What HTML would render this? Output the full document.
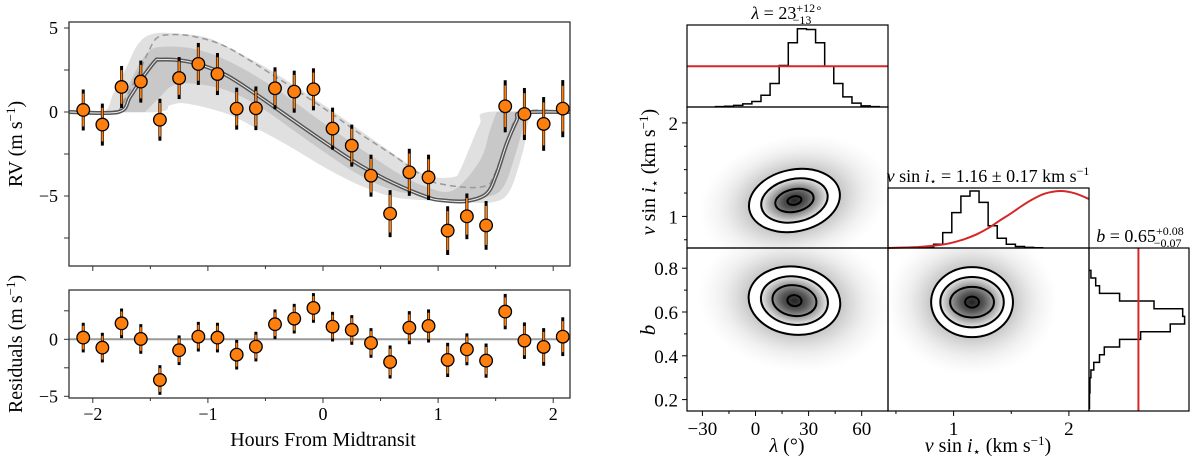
<!DOCTYPE html>
<html><head><meta charset="utf-8"><style>
html,body{margin:0;padding:0;background:#fff;}
svg{display:block;font-family:"Liberation Serif",serif;}
</style></head><body>
<svg id="fig" width="1200" height="456" viewBox="0 0 1200 456" xmlns="http://www.w3.org/2000/svg">
<defs>
<clipPath id="clipTop"><rect x="69" y="22" width="501" height="244"/></clipPath>
<clipPath id="clipA"><rect x="687" y="107" width="201" height="141"/></clipPath>
<clipPath id="clipB"><rect x="687" y="248" width="201" height="163"/></clipPath>
<clipPath id="clipC"><rect x="888" y="248" width="201" height="163"/></clipPath>
<radialGradient id="cloud">
<stop offset="0" stop-color="#555" stop-opacity="0.75"/>
<stop offset="0.45" stop-color="#777" stop-opacity="0.45"/>
<stop offset="0.75" stop-color="#aaa" stop-opacity="0.18"/>
<stop offset="1" stop-color="#ccc" stop-opacity="0"/>
</radialGradient>
<radialGradient id="core">
<stop offset="0" stop-color="#222"/>
<stop offset="0.35" stop-color="#555"/>
<stop offset="0.7" stop-color="#aaa"/>
<stop offset="1" stop-color="#f4f4f4"/>
</radialGradient>
</defs>
<g id="left"></g>
<g id="corner"></g>
<text x="323" y="446" font-size="20" text-anchor="middle">Hours From Midtransit</text>
<text transform="translate(22,144) rotate(-90)" font-size="20" text-anchor="middle">RV (m s<tspan dy="-7" font-size="13">−1</tspan><tspan dy="7">)</tspan></text>
<text transform="translate(22,344) rotate(-90)" font-size="20" text-anchor="middle">Residuals (m s<tspan dy="-7" font-size="13">−1</tspan><tspan dy="7">)</tspan></text>
<text x="787" y="19" font-size="18" text-anchor="middle"><tspan font-style="italic">λ</tspan> = 23<tspan dy="-7" font-size="12">+12∘</tspan><tspan dx="-30" dy="12" font-size="12">−13</tspan></text>
<text x="988" y="182" font-size="18" text-anchor="middle"><tspan font-style="italic">v</tspan> sin <tspan font-style="italic">i</tspan><tspan font-size="11" dy="3">⋆</tspan><tspan dy="-3"> = 1.16 ± 0.17 km s</tspan><tspan dy="-7" font-size="12">−1</tspan></text>
<text x="1140" y="242" font-size="18" text-anchor="middle"><tspan font-style="italic">b</tspan> = 0.65<tspan dy="-7" font-size="12">+0.08</tspan><tspan dx="-30" dy="12" font-size="12">−0.07</tspan></text>
<text x="787" y="452" font-size="20" text-anchor="middle"><tspan font-style="italic">λ</tspan> (°)</text>
<text x="988" y="452" font-size="20" text-anchor="middle"><tspan font-style="italic">v</tspan> sin <tspan font-style="italic">i</tspan><tspan font-size="13" dy="4">⋆</tspan><tspan dy="-4"> (km s</tspan><tspan dy="-7" font-size="13">−1</tspan><tspan dy="7">)</tspan></text>
<text transform="translate(655,172) rotate(-90)" font-size="20" text-anchor="middle"><tspan font-style="italic">v</tspan> sin <tspan font-style="italic">i</tspan><tspan font-size="13" dy="4">⋆</tspan><tspan dy="-4"> (km s</tspan><tspan dy="-7" font-size="13">−1</tspan><tspan dy="7">)</tspan></text>
<text transform="translate(655,330) rotate(-90)" font-size="21" text-anchor="middle" font-style="italic">b</text>
</svg>
<script>
// ---------- data: RV panel ----------
const hours = [-2.083,-1.917,-1.75,-1.583,-1.417,-1.25,-1.083,-0.917,-0.75,-0.583,-0.417,-0.25,-0.083,0.083,0.25,0.417,0.583,0.75,0.917,1.083,1.25,1.417,1.583,1.75,1.917,2.083];
const rv = [0.12,-0.75,1.49,1.81,-0.46,2.02,2.86,2.26,0.2,0.22,1.41,1.21,1.35,-0.99,-2.0,-3.79,-6.05,-3.59,-3.89,-7.06,-6.21,-6.75,0.34,-0.12,-0.71,0.2];
const rvErr = [1.22,1.25,1.25,1.25,1.25,1.25,1.25,1.25,1.25,1.3,1.25,1.25,1.25,1.25,1.25,1.25,1.4,1.4,1.35,1.45,1.36,1.45,1.55,1.55,1.6,1.7];
const resid = [0.15,-0.73,1.4,0.03,-3.57,-0.96,0.23,0.15,-1.35,-0.64,1.32,1.81,2.75,1.11,0.82,-0.32,-1.99,1.02,1.17,-1.81,-0.88,-1.87,2.43,-0.12,-0.67,0.23];
const resErr = [1.3,1.3,1.3,1.3,1.3,1.3,1.3,1.3,1.3,1.3,1.3,1.3,1.3,1.3,1.3,1.3,1.45,1.45,1.45,1.5,1.4,1.5,1.55,1.6,1.65,1.7];
const modelX = [-2.207,-1.778,-1.677,-1.575,-1.46,-1.416,-1.242,-1.069,-0.837,-0.547,-0.258,0.032,0.321,0.611,0.901,1.045,1.248,1.422,1.509,1.596,1.683,1.726,2.146];
const modelY = [0,0,0.89,1.98,3.02,3.12,3.08,2.82,2.18,0.89,-0.5,-1.88,-3.17,-4.23,-5.06,-5.26,-5.3,-4.86,-3.67,-1.88,-0.5,-0.04,0];
const dashX = [-1.778,-1.619,-1.518,-1.445,-1.329,-1.127,-0.837,-0.431,0.032,0.321,0.611,0.901,1.045,1.277,1.422,1.48,1.596,1.726,2.146];
const dashY = [0,2.08,3.57,4.4,4.6,4.5,3.87,2.18,0.1,-1.29,-2.58,-3.97,-4.31,-4.5,-4.37,-3.87,-1.88,-0.04,0];
const lightUpX = [-2.2,-1.909,-1.822,-1.706,-1.604,-1.474,-1.242,-0.982,-0.663,-0.431,0.032,0.611,0.901,1.132,1.19,1.277,1.364,1.436,2.146];
const lightUpY = [0,0,1.09,2.68,4.07,4.66,4.66,4.37,3.27,2.38,0.3,-2.48,-3.77,-3.87,-3.47,-2.08,-0.69,0,0];
const lightLoX = [2.146,1.827,1.74,1.625,1.48,1.19,0.901,0.611,0.321,0.032,-0.258,-0.547,-0.837,-1.184,-1.329,-1.445,-2.2];
const lightLoY = [0,0,-2.28,-4.66,-5.36,-5.36,-5.26,-5.06,-4.37,-3.37,-2.18,-1.09,-0.1,0.5,0.4,0,0];
const darkUpX = [-1.778,-1.662,-1.532,-1.416,-1.127,-0.837,-0.431,0.032,0.611,0.901,1.132,1.364,1.451,1.509];
const darkUpY = [0,1.98,3.47,3.87,3.77,3.08,1.49,-0.79,-3.47,-4.46,-4.66,-2.88,-1.09,0];
const darkLoX = [1.77,1.683,1.567,1.422,1.19,0.901,0.611,0.321,0.032,-0.258,-0.547,-0.837,-1.127,-1.3,-1.416,-1.546];
const darkLoY = [0,-2.28,-4.46,-5.06,-5.22,-4.96,-4.66,-3.77,-2.48,-1.09,0.3,1.29,1.69,1.59,0.89,0];
const hourTicks = [-2,-1,0,1,2];
const rvTicks = [5,0,-5];
const resTicks = [0,-5];

// ---------- data: corner ----------
const lamEdge0 = -22.6, lamBin = 5.14;
const lamHist = [0.005,0.01,0.02,0.04,0.07,0.15,0.3,0.53,0.82,1.0,0.99,0.82,0.52,0.3,0.13,0.05,0.015,0.005];
const lamPrior = 0.52;
const vEdge0 = 0.748, vBin = 0.0788;
const vHist = [0.02,0.065,0.27,0.62,0.91,1.0,0.8,0.39,0.17,0.065,0.027,0.01,0.005];
const vPriorX = [0.43,0.7,0.9,1.0,1.1,1.2,1.3,1.4,1.5,1.6,1.7,1.8,1.93,2.05,2.174];
const vPriorY = [0.0,0.018,0.059,0.1,0.16,0.24,0.347,0.48,0.61,0.75,0.87,0.96,1.0,0.96,0.86];
const bEdge0 = 0.16, bBin = 0.035;
const bHist = [0.005,0.005,0.01,0.01,0.02,0.05,0.11,0.16,0.32,0.54,0.85,1.0,0.98,0.68,0.32,0.11,0.07,0.02];
const bPrior = 0.517;
const lamTicks = [-30,0,30,60];
const vTicks = [1,2];
const bTicks = [0.2,0.4,0.6,0.8];
const contA = [[26,0.33],[19,0.23],[11,0.12],[4,0.045]]; const centA=[22,1.17];
const contB = [[26,0.155],[19,0.11],[12.5,0.07],[4,0.025]]; const centB=[22,0.652];
const contC = [[0.355,0.16],[0.275,0.115],[0.19,0.07],[0.06,0.025]]; const centC=[1.16,0.645];

// ---------- helpers ----------
const NS='http://www.w3.org/2000/svg';
function mk(tag, parent, attrs){const e=document.createElementNS(NS,tag);for(const k in attrs)e.setAttribute(k,attrs[k]);parent.appendChild(e);return e;}
function smooth(pts){let d='M'+pts[0][0].toFixed(1)+','+pts[0][1].toFixed(1);
 for(let i=0;i<pts.length-1;i++){const p0=pts[i-1]||pts[i],p1=pts[i],p2=pts[i+1],p3=pts[i+2]||p2;
  const c1=[p1[0]+(p2[0]-p0[0])/6,p1[1]+(p2[1]-p0[1])/6],c2=[p2[0]-(p3[0]-p1[0])/6,p2[1]-(p3[1]-p1[1])/6];
  d+=' C'+c1.map(v=>v.toFixed(1))+' '+c2.map(v=>v.toFixed(1))+' '+p2.map(v=>v.toFixed(1));}
 return d;}
const L=document.getElementById('left'), C=document.getElementById('corner');
const xH=h=>323+h*115.1, yRV=v=>112-v*16.8, yRes=v=>339.3-v*11.4;
const fmt=v=>(v<0?'\u2212'+(-v):''+v);

// ---------- RV panel ----------
const bandG=mk('g',L,{'clip-path':'url(#clipTop)'});


const lu=lightUpX.map((x,i)=>[xH(x),yRV(lightUpY[i])]), ll=lightLoX.map((x,i)=>[xH(x),yRV(lightLoY[i])]);
const p1=mk('path',bandG,{d:smooth(lu)+' L'+ll[0]+' '+smooth(ll).slice(1)+' Z',fill:'#e0e0e0'});


const du=darkUpX.map((x,i)=>[xH(x),yRV(darkUpY[i])]), dl=darkLoX.map((x,i)=>[xH(x),yRV(darkLoY[i])]);
const p2=mk('path',bandG,{d:smooth(du)+' L'+dl[0]+' '+smooth(dl).slice(1)+' Z',fill:'#c8c8c8'});


const dsh=mk('path',bandG,{d:smooth(dashX.map((x,i)=>[xH(x),yRV(dashY[i])])),fill:'none',stroke:'#999','stroke-width':1.5,'stroke-dasharray':'6,4'});


const md=smooth(modelX.map((x,i)=>[xH(x),yRV(modelY[i])]));
const m1=mk('path',bandG,{d:md,fill:'none',stroke:'#555','stroke-width':4});


mk('path',bandG,{d:md,fill:'none',stroke:'#eee','stroke-width':1});
function points(parent, ys, errs, ysc, name){
 hours.forEach((h,i)=>{const g=mk('g',parent,{});
  
  
  const x=xH(h);
  mk('line',g,{x1:x,x2:x,y1:ysc(ys[i]-errs[i]),y2:ysc(ys[i]+errs[i]),stroke:'#000','stroke-width':3});
  mk('line',g,{x1:x,x2:x,y1:ysc(ys[i]-errs[i]*0.8),y2:ysc(ys[i]+errs[i]*0.8),stroke:'#ff7f0e','stroke-width':1.8});
  mk('circle',g,{cx:x,cy:ysc(ys[i]),r:6.3,fill:'#ff7f0e',stroke:'#000','stroke-width':1.3});
 });}
points(L,rv,rvErr,yRV,'rv-point');
const zl=mk('line',L,{x1:69,x2:570,y1:yRes(0),y2:yRes(0),stroke:'#999','stroke-width':2});


points(L,resid,resErr,yRes,'residual-point');
[[22,266,'rv-frame'],[290,398,'residual-frame']].forEach(([t,b,n])=>{const r=mk('rect',L,{x:69,y:t,width:501,height:b-t,fill:'none',stroke:'#333','stroke-width':1.3});
 
 });
for(let h=-2;h<=2.01;h+=0.5){const x=xH(h),len=(Math.abs(h%1)<0.01)?5:3;
 mk('line',L,{x1:x,x2:x,y1:266,y2:266+len,stroke:'#333'});mk('line',L,{x1:x,x2:x,y1:398,y2:398+len,stroke:'#333'});}
hourTicks.forEach(h=>{const t=mk('text',L,{x:xH(h),y:420,'font-size':18,'text-anchor':'middle'});t.textContent=fmt(h);
 
 });
for(let v=-7.5;v<=5.01;v+=2.5){const y=yRV(v);mk('line',L,{x1:69,x2:64,y1:y,y2:y,stroke:'#333'});}
for(let v=-5;v<=2.51;v+=2.5){const y=yRes(v);mk('line',L,{x1:69,x2:64,y1:y,y2:y,stroke:'#333'});}
rvTicks.forEach(v=>{const t=mk('text',L,{x:58,y:yRV(v)+6,'font-size':18,'text-anchor':'end'});t.textContent=fmt(v);
 
 });
resTicks.forEach(v=>{const t=mk('text',L,{x:58,y:yRes(v)+6,'font-size':18,'text-anchor':'end'});t.textContent=fmt(v);
 
 });

// ---------- corner ----------
const xLam=v=>755.5+v*1.77, xV=v=>953.6+(v-1)*115.3, yV=v=>216.4-(v-1)*93.5, yB=v=>268.2-(v-0.8)*219;
const yLH=v=>107-v*78.3;
(function(){let d='M'+xLam(lamEdge0)+','+107;lamHist.forEach((v,i)=>{d+=' L'+xLam(lamEdge0+i*lamBin)+','+yLH(v)+' L'+xLam(lamEdge0+(i+1)*lamBin)+','+yLH(v);});d+=' L'+xLam(lamEdge0+lamHist.length*lamBin)+',107';
 const g=mk('g',C,{});
 
 
 mk('path',g,{d:d,fill:'none',stroke:'#000','stroke-width':1.5});
 const r=mk('line',g,{x1:687,x2:888,y1:yLH(lamPrior),y2:yLH(lamPrior),stroke:'#d62728','stroke-width':2});
 
 })();
const yVH=v=>248-v*57;
(function(){let d='M'+xV(vEdge0)+',248';vHist.forEach((v,i)=>{d+=' L'+xV(vEdge0+i*vBin)+','+yVH(v)+' L'+xV(vEdge0+(i+1)*vBin)+','+yVH(v);});d+=' L'+xV(vEdge0+vHist.length*vBin)+',248';
 const g=mk('g',C,{});
 
 
 mk('path',g,{d:d,fill:'none',stroke:'#000','stroke-width':1.5});
 const r=mk('path',g,{d:smooth(vPriorX.map((x,i)=>[xV(x),yVH(vPriorY[i])])),fill:'none',stroke:'#d62728','stroke-width':2});
 
 })();
const xBH=v=>1089+v*95.6;
(function(){let d='M1089,'+yB(bEdge0);bHist.forEach((v,i)=>{d+=' L'+xBH(v)+','+yB(bEdge0+i*bBin)+' L'+xBH(v)+','+yB(bEdge0+(i+1)*bBin);});d+=' L1089,'+yB(bEdge0+bHist.length*bBin);
 const g2=mk('g',C,{});
 
 
 mk('path',g2,{d:d,fill:'none',stroke:'#000','stroke-width':1.5});
 const r=mk('line',g2,{x1:xBH(bPrior),x2:xBH(bPrior),y1:248,y2:411,stroke:'#d62728','stroke-width':2});
 
 })();
function panel2d(clip,cent,conts,xs,ys,rot,name){
 const g=mk('g',C,{'clip-path':'url('+clip+')'});
 
 
 const cx=xs(cent[0]),cy=ys(cent[1]);
 const rx0=Math.abs(xs(cent[0]+conts[0][0])-cx),ry0=Math.abs(ys(cent[1]+conts[0][1])-cy);
 mk('ellipse',g,{cx:cx,cy:cy,rx:rx0*2.1,ry:ry0*2.1,fill:'url(#cloud)',transform:`rotate(${rot} ${cx} ${cy})`});
 mk('ellipse',g,{cx:cx,cy:cy,rx:rx0,ry:ry0,fill:'#fff',transform:`rotate(${rot} ${cx} ${cy})`});
 const rx1=Math.abs(xs(cent[0]+conts[1][0])-cx),ry1=Math.abs(ys(cent[1]+conts[1][1])-cy);
 mk('ellipse',g,{cx:cx,cy:cy,rx:rx1*1.05,ry:ry1*1.05,fill:'url(#core)',transform:`rotate(${rot} ${cx} ${cy})`});
 conts.forEach(c=>{const rx=Math.abs(xs(cent[0]+c[0])-cx),ry=Math.abs(ys(cent[1]+c[1])-cy);
  const e=mk('ellipse',g,{cx:cx,cy:cy,rx:rx,ry:ry,fill:'none',stroke:'#000','stroke-width':2,transform:`rotate(${rot} ${cx} ${cy})`});
  
  });
}
panel2d('#clipA',centA,contA,xLam,yV,-12,'lambda-vsini-scatter');
panel2d('#clipB',centB,contB,xLam,yB,8,'lambda-b-scatter');
panel2d('#clipC',centC,contC,xV,yB,0,'vsini-b-scatter');
[[687,25,201,82,'lambda-hist-frame'],[687,107,201,141,'lambda-vsini-frame'],[888,188,201,60,'vsini-hist-frame'],[687,248,201,163,'lambda-b-frame'],[888,248,201,163,'vsini-b-frame'],[1089,248,100,163,'b-hist-frame']].forEach(([x,y,w,h,n])=>{
 const r=mk('rect',C,{x:x,y:y,width:w,height:h,fill:'none',stroke:'#000','stroke-width':1.2});
 
 });
for(let v=-30;v<=60;v+=15){const x=xLam(v);mk('line',C,{x1:x,x2:x,y1:411,y2:v%30===0?416:414,stroke:'#000'});}
for(let v=0.5;v<=2.01;v+=0.5){const x=xV(v);if(x>888&&x<1089)mk('line',C,{x1:x,x2:x,y1:411,y2:v%1===0?416:414,stroke:'#000'});}
for(let v=0.75;v<=2.01;v+=0.25){const y=yV(v);mk('line',C,{x1:687,x2:(v%1===0)?682:684,y1:y,y2:y,stroke:'#000'});}
for(let v=0.2;v<=0.85;v+=0.1){const y=yB(v);mk('line',C,{x1:687,x2:(Math.round(v*10)%2===0)?682:684,y1:y,y2:y,stroke:'#000'});}
lamTicks.forEach(v=>{const t=mk('text',C,{x:xLam(v),y:435,'font-size':19,'text-anchor':'middle'});t.textContent=fmt(v);
 
 });
vTicks.forEach(v=>{const t=mk('text',C,{x:xV(v),y:435,'font-size':19,'text-anchor':'middle'});t.textContent=fmt(v);
 
 });
vTicks.forEach(v=>{const t=mk('text',C,{x:678,y:yV(v)+7,'font-size':19,'text-anchor':'end'});t.textContent=fmt(v);
 
 });
bTicks.forEach(v=>{const t=mk('text',C,{x:678,y:yB(v)+7,'font-size':19,'text-anchor':'end'});t.textContent=v.toFixed(1);
 
 });
</script>
</body></html>
